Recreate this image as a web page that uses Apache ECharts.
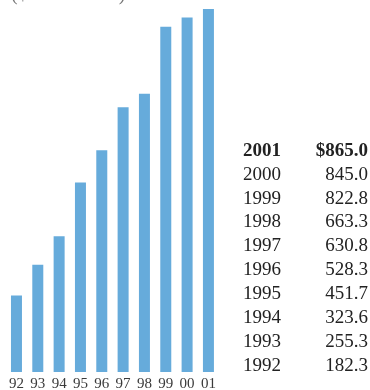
<!DOCTYPE html>
<html>
<head>
<meta charset="utf-8">
<style>
  html, body { margin: 0; padding: 0; background: #ffffff; }
  #chart { width: 370px; height: 390px; }
</style>
<script src="https://cdn.jsdelivr.net/npm/echarts@6/dist/echarts.min.js"></script>
</head>
<body>
<div id="chart"></div>
<script>
// Annual totals, $ in millions
const years = ['1992', '1993', '1994', '1995', '1996', '1997', '1998', '1999', '2000', '2001'];
const tickLabels = ['92', '93', '94', '95', '96', '97', '98', '99', '00', '01'];
const amounts = [182.3, 255.3, 323.6, 451.7, 528.3, 630.8, 663.3, 822.8, 845.0, 865.0];
const unitsNote = '($ in millions)';

const serif = '"Liberation Serif", "DejaVu Serif", serif';
const chart = echarts.init(document.getElementById('chart'), null, { renderer: 'canvas' });

// Value table beside the bars, newest year first
const tableRows = [];
const rowCenter = 150.8, rowStep = 23.9;
for (let k = 0; k < years.length; k++) {
  const i = years.length - 1 - k;
  const first = k === 0;
  const y = rowCenter + k * rowStep;
  const font = (first ? 'bold ' : '') + '19px ' + serif;
  tableRows.push({
    type: 'text', x: 243, y: y, style: {
      text: years[i], font: font, fill: '#222',
      align: 'left', verticalAlign: 'middle'
    }
  });
  tableRows.push({
    type: 'text', x: 368, y: y, style: {
      text: (first ? '$' : '') + amounts[i].toFixed(1), font: font, fill: '#222',
      align: 'right', verticalAlign: 'middle'
    }
  });
}

chart.setOption({
  animation: false,
  grid: {
    left: 5.8, width: 213.3, top: 9, bottom: 18,
    containLabel: false, outerBoundsMode: 'none'
  },
  xAxis: {
    type: 'category',
    data: tickLabels,
    axisLine: { show: false },
    axisTick: { show: false },
    axisLabel: { color: '#3a3a3a', fontFamily: serif, fontSize: 15, margin: 5 }
  },
  yAxis: {
    type: 'value', min: 0, max: 865,
    show: false, splitLine: { show: false }
  },
  series: [{
    type: 'bar',
    data: amounts,
    barWidth: 11,
    itemStyle: { color: '#66abdb' }
  }],
  graphic: [
    {
      type: 'text', x: 11, y: -5,
      style: { text: unitsNote, font: '20px ' + serif, fill: '#777', verticalAlign: 'middle' }
    }
  ].concat(tableRows)
});
</script>
</body>
</html>
